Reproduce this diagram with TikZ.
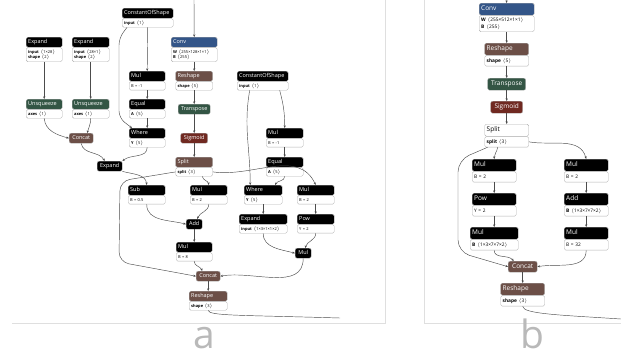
\documentclass[tikz,border=0pt]{standalone}
\usepackage{fontspec}
\setmainfont{Open Sans}
\usetikzlibrary{arrows.meta}
\newcommand\dims[1]{$\langle$#1$\rangle$}

\begin{document}
\begin{tikzpicture}[x=1pt,y=-1pt,
    hd/.style={anchor=north west, text width=#1, inner xsep=2pt, inner ysep=0pt,
        minimum height=10pt, text height=4pt, text depth=1.2pt, align=left,
        text=white, draw=gray!60, line width=0.4pt, rounded corners=1.5pt,
        font=\fontsize{5.5}{6}\selectfont},
    bd/.style={anchor=north west, text width=#1, inner xsep=2pt, inner ysep=1.8pt,
        minimum height=8.5pt, align=left, fill=white, draw=gray!60,
        line width=0.4pt, rounded corners=1.5pt, font=\fontsize{4}{5.5}\selectfont},
    sop/.style={anchor=north west, minimum width=#1, minimum height=10pt,
        inner sep=0pt, text height=4pt, text depth=1.2pt, text=white,
        draw=gray!60, line width=0.4pt, rounded corners=2pt,
        font=\fontsize{5.5}{6}\selectfont},
    ln/.style={draw=black!70, line width=0.45pt, -{Stealth[length=2.6pt,width=2.2pt]}},
    panelline/.style={draw=gray!25, line width=0.7pt},
    letter/.style={anchor=base, inner sep=0pt, text depth=0pt, text=gray!55,
        font=\fontsize{39}{39}\selectfont}]
    \definecolor{convc}{HTML}{335588}
    \definecolor{shpc}{HTML}{6C4F47}
    \definecolor{trc}{HTML}{335544}
    \definecolor{actc}{HTML}{702921}

    \useasboundingbox (0,0) rectangle (621,360);

% panel frames
    \draw[panelline] (12,323) -- (385,323) -- (385,0);
    \draw[panelline] (424,0) -- (424,323) -- (621,323);

% panel a, grid branch
    \node[hd=32pt, fill=black] (expA1) at (26,37) {Expand};
    \node[bd=32pt] (expA1b) at (expA1.south west) {\textbf{input} \dims{1×28}\\\textbf{shape} \dims{2}};
    \node[hd=33pt, fill=black] (expA2) at (72,37) {Expand};
    \node[bd=33pt] (expA2b) at (expA2.south west) {\textbf{input} \dims{28×1}\\\textbf{shape} \dims{2}};
    \node[hd=32pt, fill=trc] (unsA1) at (26,99) {Unsqueeze};
    \node[bd=32pt] (unsA1b) at (unsA1.south west) {\textbf{axes} \dims{1}};
    \node[hd=33pt, fill=trc] (unsA2) at (72,99) {Unsqueeze};
    \node[bd=33pt] (unsA2b) at (unsA2.south west) {\textbf{axes} \dims{1}};
    \node[sop=24pt, fill=shpc] (catA1) at (69,133) {Concat};
    \node[sop=25pt, fill=black] (expA3) at (97,161) {Expand};

    % left mask
    \node[hd=47pt, fill=black] (cosA1) at (122,8) {ConstantOfShape};
    \node[bd=47pt] (cosA1b) at (cosA1.south west) {\textbf{input} \dims{1}};
    \node[hd=32pt, fill=black] (mulA1) at (129,71) {Mul};
    \node[bd=32pt] (mulA1b) at (mulA1.south west) {B = -1};
    \node[hd=32pt, fill=black] (eqA1) at (129,99) {Equal};
    \node[bd=32pt] (eqA1b) at (eqA1.south west) {\textbf{A} \dims{5}};
    \node[hd=32pt, fill=black] (whA1) at (129,128) {Where};
    \node[bd=32pt] (whA1b) at (whA1.south west) {\textbf{Y} \dims{5}};

    % head
    \node[hd=42pt, fill=convc] (convA) at (171,37) {Conv};
    \node[bd=42pt] (convAb) at (convA.south west) {\textbf{W} \dims{255×128×1×1}\\\textbf{B} \dims{255}};
    \node[hd=33pt, fill=shpc] (rshA1) at (175.5,71) {Reshape};
    \node[bd=33pt] (rshA1b) at (rshA1.south west) {\textbf{shape} \dims{5}};
    \node[sop=32pt, fill=trc] (trA) at (178,104) {Transpose};
    \node[sop=27pt, fill=actc] (sigA) at (180.5,133) {Sigmoid};
    \node[hd=33pt, fill=shpc] (splA) at (175.5,157) {Split};
    \node[bd=33pt] (splAb) at (splA.south west) {\textbf{split} \dims{3}};

    % xy
    \node[hd=33pt, fill=black] (subA) at (128,185) {Sub};
    \node[bd=33pt] (subAb) at (subA.south west) {B = 0.5};
    \node[hd=33pt, fill=black] (mulA2) at (190,185) {Mul};
    \node[bd=33pt] (mulA2b) at (mulA2.south west) {B = 2};
    \node[sop=16pt, fill=black] (addA) at (186,219) {Add};
    \node[hd=32pt, fill=black] (mulA5) at (176,242) {Mul};
    \node[bd=32pt] (mulA5b) at (mulA5.south west) {B = 8};

    % right mask and wh
    \node[hd=47pt, fill=black] (cosA2) at (237,71) {ConstantOfShape};
    \node[bd=47pt] (cosA2b) at (cosA2.south west) {\textbf{input} \dims{1}};
    \node[hd=33pt, fill=black] (mulA3) at (266,128) {Mul};
    \node[bd=33pt] (mulA3b) at (mulA3.south west) {B = -1};
    \node[hd=33pt, fill=black] (eqA2) at (266,157) {Equal};
    \node[bd=33pt] (eqA2b) at (eqA2.south west) {\textbf{A} \dims{5}};
    \node[hd=34pt, fill=black] (whA2) at (244,185) {Where};
    \node[bd=34pt] (whA2b) at (whA2.south west) {\textbf{Y} \dims{5}};
    \node[hd=44pt, fill=black] (expA4) at (239,214) {Expand};
    \node[bd=44pt] (expA4b) at (expA4.south west) {\textbf{input} \dims{1×3×1×1×2}};
    \node[hd=33pt, fill=black] (mulA4) at (297,185) {Mul};
    \node[bd=33pt] (mulA4b) at (mulA4.south west) {B = 2};
    \node[hd=33pt, fill=black] (powA) at (297,214) {Pow};
    \node[bd=33pt] (powAb) at (powA.south west) {Y = 2};
    \node[sop=16pt, fill=black] (mulA6) at (295,248) {Mul};

    % output
    \node[sop=24pt, fill=shpc] (catA2) at (196,271) {Concat};
    \node[hd=34pt, fill=shpc] (rshA2) at (189,291) {Reshape};
    \node[bd=34pt] (rshA2b) at (rshA2.south west) {\textbf{shape} \dims{3}};

    \coordinate (inA) at (194,0);
    \coordinate (outA) at (340,318);

% panel a edges
    \draw[ln] (inA) -- (convA.north);
    \draw[ln] (convAb.south) -- (rshA1.north);
    \draw[ln] (rshA1b.south) -- (trA.north);
    \draw[ln] (trA.south) -- (sigA.north);
    \draw[ln] (sigA.south) -- (splA.north);
    \draw[ln] (expA1b.south) -- (unsA1.north);
    \draw[ln] (expA2b.south) -- (unsA2.north);
    \draw[ln] (unsA1b.south) to[out=-85,in=165] (catA1.west);
    \draw[ln] (unsA2b.south) to[out=-90,in=75] ([xshift=6pt]catA1.north);
    \draw[ln] (catA1.south) to[out=-80,in=120] ([xshift=-5pt]expA3.north);
    \draw[ln] (cosA1b.south) -- (mulA1.north);
    \draw[ln] (mulA1b.south) -- (eqA1.north);
    \draw[ln] (eqA1b.south) -- (whA1.north);
    \draw[ln, rounded corners=7pt] ([xshift=5pt]cosA1b.south west) -- (119,38) -- (119,118) -- ([xshift=3pt]whA1.north west);
    \draw[ln] (whA1b.south) to[out=-90,in=40] (expA3.north east);
    \draw[ln] (expA3.south east) to[out=-15,in=95] (subA.north);
    \draw[ln, rounded corners=10pt] (splAb.west) -- (120,181) -- (119,262) -- (catA2.west);
    \draw[ln] ([xshift=8pt]splAb.south) to[out=-80,in=95] (mulA2.north);
    \draw[ln] (splAb.east) to[out=-8,in=115] (mulA4.north);
    \draw[ln] ([xshift=-13pt]cosA2b.south) to[out=-100,in=90] ([xshift=-13pt]whA2.north);
    \draw[ln] ([xshift=17pt]cosA2b.south) to[out=-75,in=90] (mulA3.north);
    \draw[ln] (mulA3b.south) -- (eqA2.north);
    \draw[ln] (eqA2b.south) to[out=-90,in=65] ([xshift=12pt]whA2.north);
    \draw[ln] (whA2b.south) -- (expA4.north);
    \draw[ln] (mulA4b.south) -- (powA.north);
    \draw[ln] (expA4b.south) to[out=-90,in=165] (mulA6.west);
    \draw[ln] (powAb.south) to[out=-90,in=75] ([xshift=2pt]mulA6.north);
    \draw[ln] (subAb.south) to[out=-90,in=165] (addA.west);
    \draw[ln] (mulA2b.south) to[out=-90,in=70] ([xshift=3pt]addA.north);
    \draw[ln] (addA.south) -- (mulA5.north);
    \draw[ln] (mulA5b.south) to[out=-90,in=110] ([xshift=-6pt]catA2.north);
    \draw[ln] (mulA6.south) to[out=-90,in=10] (catA2.east);
    \draw[ln] (catA2.south) -- (rshA2.north);
    \draw[draw=black!70, line width=0.45pt] (rshA2b.south) .. controls (209,316) and (240,315) .. (outA);

    \node[letter] (labA) at (204,348) {a};

% panel b, bigger boxes
    \scope[hd/.append style={minimum height=12pt, text height=4.8pt, text depth=1.4pt, font=\fontsize{6.5}{7}\selectfont},
        bd/.append style={minimum height=10.5pt, inner ysep=2.3pt, font=\fontsize{4.8}{6.5}\selectfont},
        sop/.append style={minimum height=12pt, text height=4.8pt, text depth=1.4pt, font=\fontsize{6.5}{7}\selectfont}]
    \node[hd=51pt, fill=convc] (convB) at (479,3) {Conv};
    \node[bd=51pt] (convBb) at (convB.south west) {\textbf{W} \dims{255×512×1×1}\\\textbf{B} \dims{255}};
    \node[hd=40pt, fill=shpc] (rshB1) at (484.5,43) {Reshape};
    \node[bd=40pt] (rshB1b) at (rshB1.south west) {\textbf{shape} \dims{5}};
    \node[sop=38pt, fill=trc] (trB) at (487.5,78) {Transpose};
    \node[sop=32pt, fill=actc] (sigB) at (490.5,101) {Sigmoid};
    \node[hd=40pt, fill=white, text=black] (splB) at (484.5,124) {Split};
    \node[bd=40pt] (splBb) at (splB.south west) {\textbf{split} \dims{3}};

    \node[hd=40pt, fill=black] (mulB1) at (472,159) {Mul};
    \node[bd=40pt] (mulB1b) at (mulB1.south west) {B = 2};
    \node[hd=40pt, fill=black] (powB) at (472,193) {Pow};
    \node[bd=40pt] (powBb) at (powB.south west) {Y = 2};
    \node[hd=44pt, fill=black] (mulB3) at (470,227) {Mul};
    \node[bd=44pt] (mulB3b) at (mulB3.south west) {\textbf{B} \dims{1×3×7×7×2}};

    \node[hd=40pt, fill=black] (mulB2) at (564,159) {Mul};
    \node[bd=40pt] (mulB2b) at (mulB2.south west) {B = 2};
    \node[hd=40pt, fill=black] (addB) at (564,193) {Add};
    \node[bd=40pt] (addBb) at (addB.south west) {\textbf{B} \dims{1×3×7×7×2}};
    \node[hd=40pt, fill=black] (mulB4) at (564,227) {Mul};
    \node[bd=40pt] (mulB4b) at (mulB4.south west) {B = 32};

    \node[sop=29pt, fill=shpc, minimum height=11pt] (catB) at (508,261) {Concat};
    \node[hd=40pt, fill=shpc] (rshB2) at (500.5,283) {Reshape};
    \node[bd=40pt] (rshB2b) at (rshB2.south west) {\textbf{shape} \dims{3}};
    \endscope

    \coordinate (inB) at (506.5,0);
    \coordinate (outB) at (621,319);

% panel b edges
    \draw[ln] (inB) -- (convB.north);
    \draw[ln] (convBb.south) -- (rshB1.north);
    \draw[ln] (rshB1b.south) -- (trB.north);
    \draw[ln] (trB.south) -- (sigB.north);
    \draw[ln] (sigB.south) -- (splB.north);
    \draw[ln, rounded corners=12pt] ([xshift=3pt]splBb.south west) -- (458,160) -- (458,252) -- (catB.west);
    \draw[ln] ([xshift=-9pt]splBb.south) to[out=-100,in=90] (mulB1.north);
    \draw[ln] (splBb.east) to[out=-10,in=105] (mulB2.north);
    \draw[ln] (mulB1b.south) -- (powB.north);
    \draw[ln] (powBb.south) -- (mulB3.north);
    \draw[ln] (mulB2b.south) -- (addB.north);
    \draw[ln] (addBb.south) -- (mulB4.north);
    \draw[ln] (mulB3b.south) to[out=-90,in=130] ([xshift=-9pt]catB.north);
    \draw[ln] (mulB4b.south) to[out=-90,in=10] (catB.east);
    \draw[ln] (catB.south) -- (rshB2.north);
    \draw[draw=black!70, line width=0.45pt] (rshB2b.south) .. controls (523,314) and (560,315) .. (outB);

    \node[letter] (labB) at (532,348) {b};
\end{tikzpicture}
\end{document}
